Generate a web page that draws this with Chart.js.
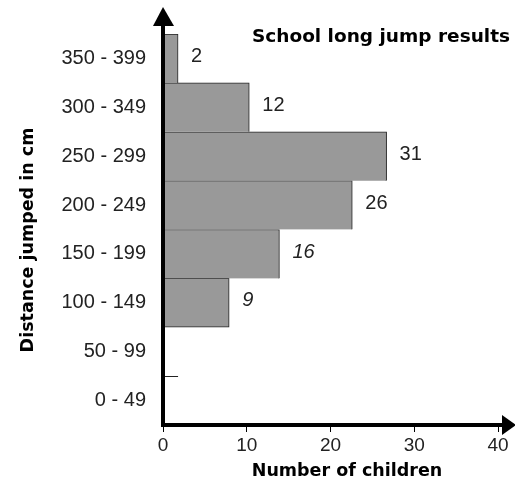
<!DOCTYPE html>
<html>
<head>
<meta charset="utf-8">
<title>School long jump results</title>
<script src="https://cdn.jsdelivr.net/npm/chart.js@4.4.0/dist/chart.umd.min.js"></script>
<style>
html, body { margin: 0; padding: 0; background: #fff; }
</style>
</head>
<body>
<canvas id="myChart" width="515" height="487"></canvas>
<script>
// distance bands, bottom to top
const distanceBands = ["0 - 49", "50 - 99", "100 - 149", "150 - 199", "200 - 249", "250 - 299", "300 - 349", "350 - 399"];
// numbers written next to the bars
const childCounts = [null, null, 9, 16, 26, 31, 12, 2];
// bar lengths as drawn in the original (they are shorter than the written numbers)
const drawnLengths = [null, null, 7.9, 13.9, 22.6, 26.7, 10.3, 1.8];
// the 9 and 16 are written in italics
const italicCounts = [false, false, true, true, false, false, false, false];
const xTickValues = [0, 10, 20, 30, 40];
// little stray stroke on the 0-49 / 50-99 boundary, from 0 to 1.8
const strayStroke = [0, 1.8];

const tickFont = '"Liberation Sans", Arial, sans-serif';
const boldFont = '"DejaVu Sans", Verdana, sans-serif';

const extras = {
    id: 'extras',
    afterDatasetsDraw(chart) {
        const { ctx, chartArea: a, scales: { x, y } } = chart;
        ctx.save();

        // stray stroke between first two bands
        const yb = Math.round((y.getPixelForValue(0) + y.getPixelForValue(1)) / 2) + 0.5;
        ctx.strokeStyle = '#222';
        ctx.lineWidth = 1;
        ctx.beginPath();
        ctx.moveTo(x.getPixelForValue(strayStroke[0]), yb);
        ctx.lineTo(x.getPixelForValue(strayStroke[1]), yb);
        ctx.stroke();

        // count labels beside the bars
        const meta = chart.getDatasetMeta(0);
        ctx.fillStyle = '#222';
        ctx.textAlign = 'left';
        ctx.textBaseline = 'middle';
        childCounts.forEach((n, i) => {
            if (n == null) return;
            const bar = meta.data[i];
            ctx.font = (italicCounts[i] ? 'italic ' : '') + '20px ' + tickFont;
            ctx.fillText(String(n), bar.x + 13, bar.y - 2);
        });

        // thick axes with arrow heads
        const x0 = x.getPixelForValue(0);
        ctx.fillStyle = '#000';
        ctx.fillRect(x0 - 2, a.top - 10, 4, a.bottom - a.top + 12);
        ctx.beginPath();
        ctx.moveTo(x0, a.top - 27);
        ctx.lineTo(x0 - 10, a.top - 8);
        ctx.lineTo(x0 + 11, a.top - 8);
        ctx.closePath();
        ctx.fill();

        ctx.fillRect(x0 - 2, a.bottom - 2, a.right - x0 + 6, 4);
        ctx.beginPath();
        ctx.moveTo(a.right + 18, a.bottom);
        ctx.lineTo(a.right + 4, a.bottom - 10);
        ctx.lineTo(a.right + 4, a.bottom + 10);
        ctx.closePath();
        ctx.fill();

        // titles
        ctx.fillStyle = '#000';
        ctx.textAlign = 'center';
        ctx.font = 'bold 18.5px ' + boldFont;
        ctx.fillText('School long jump results', 381, 37);
        ctx.font = 'bold 17.5px ' + boldFont;
        ctx.fillText('Number of children', 347, 471);
        ctx.translate(28, 240);
        ctx.rotate(-Math.PI / 2);
        ctx.fillText('Distance jumped in cm', 0, 0);
        ctx.restore();
    }
};

const ctx = document.getElementById('myChart').getContext('2d');
new Chart(ctx, {
    type: 'bar',
    data: {
        labels: distanceBands,
        datasets: [{
            data: drawnLengths,
            backgroundColor: '#999999',
            borderColor: '#222',
            borderWidth: (c) => ({ top: 1, right: 1, left: 0, bottom: c.dataIndex === 2 ? 1 : 0 }),
            borderSkipped: false,
            barPercentage: 1,
            categoryPercentage: 1
        }]
    },
    options: {
        indexAxis: 'y',
        responsive: false,
        animation: false,
        layout: { padding: { top: 34, right: 17, left: 0, bottom: 0 } },
        plugins: {
            legend: { display: false },
            tooltip: { enabled: false }
        },
        scales: {
            x: {
                type: 'linear',
                min: 0,
                max: 40,
                afterBuildTicks: (s) => { s.ticks = xTickValues.map(v => ({ value: v })); },
                afterFit: (s) => { s.height = 62; },
                grid: { display: true, drawOnChartArea: false, drawTicks: true, tickLength: 7, color: '#000', lineWidth: 1 },
                border: { display: false },
                ticks: { color: '#222', font: { family: tickFont, size: 19 }, padding: 2, maxRotation: 0 }
            },
            y: {
                reverse: true,
                afterFit: (s) => { s.width = 163; },
                grid: { display: false, drawTicks: false },
                border: { display: false },
                ticks: { color: '#222', font: { family: tickFont, size: 20 }, padding: 17 }
            }
        }
    },
    plugins: [extras]
});
</script>
</body>
</html>
